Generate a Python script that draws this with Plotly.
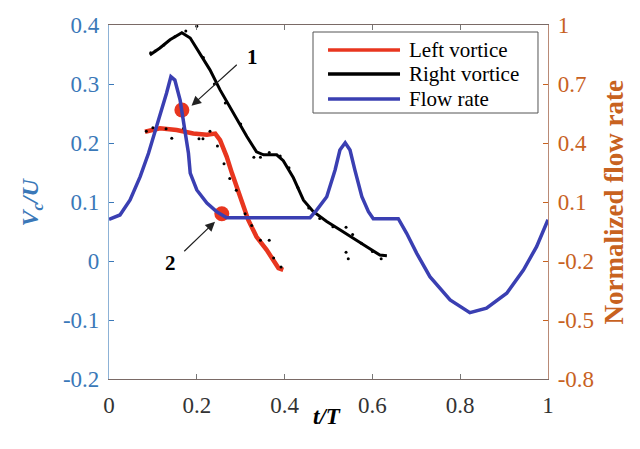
import plotly.graph_objects as go

# ---- data ----
flow_t = [0.0, 0.025, 0.048, 0.071, 0.090, 0.109, 0.131, 0.141, 0.150, 0.162, 0.173, 0.181,
          0.185, 0.200, 0.223, 0.245, 0.268, 0.458, 0.473, 0.496, 0.515, 0.526, 0.538, 0.549,
          0.560, 0.576, 0.591, 0.602, 0.659, 0.678, 0.701, 0.731, 0.777, 0.822, 0.860, 0.906,
          0.944, 0.974, 1.0]
flow_r = [0.012, 0.034, 0.110, 0.229, 0.348, 0.483, 0.653, 0.737, 0.720, 0.618, 0.466, 0.348,
          0.247, 0.161, 0.095, 0.051, 0.020, 0.020, 0.059, 0.127, 0.263, 0.364, 0.401, 0.364,
          0.263, 0.127, 0.051, 0.015, 0.015, -0.059, -0.161, -0.280, -0.398, -0.463, -0.440, -0.364,
          -0.246, -0.127, 0.010]

right_t = [0.093, 0.116, 0.139, 0.166, 0.185, 0.207, 0.230, 0.253, 0.283, 0.314, 0.336, 0.352,
           0.382, 0.397, 0.420, 0.443, 0.465, 0.496, 0.526, 0.557, 0.587, 0.617, 0.633]
right_v = [0.349, 0.361, 0.375, 0.387, 0.378, 0.352, 0.324, 0.290, 0.250, 0.211, 0.185, 0.180,
           0.180, 0.170, 0.141, 0.103, 0.084, 0.067, 0.053, 0.039, 0.024, 0.010, 0.009]

left_t = [0.082, 0.116, 0.154, 0.192, 0.223, 0.242, 0.253, 0.268, 0.280, 0.298, 0.317, 0.336,
          0.359, 0.386, 0.397]
left_v = [0.219, 0.225, 0.222, 0.216, 0.214, 0.216, 0.205, 0.177, 0.149, 0.109, 0.070, 0.041,
          0.019, -0.012, -0.015]

dots_t = [0.095, 0.105, 0.125, 0.150, 0.175, 0.200, 0.215, 0.240, 0.265, 0.300, 0.330, 0.345,
          0.365, 0.390, 0.410, 0.430, 0.455, 0.480, 0.510, 0.540, 0.545, 0.540, 0.555, 0.575, 0.600, 0.620,
          0.085, 0.100, 0.130, 0.143, 0.170, 0.205, 0.214, 0.230, 0.247, 0.262, 0.275, 0.290, 0.310,
          0.325, 0.345, 0.365, 0.375, 0.392]
dots_v = [0.353, 0.356, 0.366, 0.380, 0.390, 0.398, 0.345, 0.300, 0.268, 0.232, 0.176, 0.176,
          0.184, 0.178, 0.158, 0.125, 0.090, 0.072, 0.058, 0.015, 0.004, 0.057, 0.045, 0.030, 0.016, 0.004,
          0.220, 0.226, 0.224, 0.208, 0.225, 0.207, 0.207, 0.220, 0.195, 0.165, 0.140, 0.120, 0.080,
          0.060, 0.035, 0.035, 0.005, -0.010]

mark_t = [0.166, 0.257]
mark_v = [0.256, 0.080]

left_ticks = [-0.2, -0.1, 0, 0.1, 0.2, 0.3, 0.4]
left_labels = ["-0.2", "-0.1", "0", "0.1", "0.2", "0.3", "0.4"]
right_ticks = [-0.8, -0.5, -0.2, 0.1, 0.4, 0.7, 1]
right_labels = ["-0.8", "-0.5", "-0.2", "0.1", "0.4", "0.7", "1"]
x_ticks = [0, 0.2, 0.4, 0.6, 0.8, 1]
x_labels = ["0", "0.2", "0.4", "0.6", "0.8", "1"]

series_names = ["Left vortice", "Right vortice", "Flow rate"]
series_colors = ["#e8361f", "black", "#3a3fb2"]

BLUE_AX = "#3a78b8"
ORANGE = "#c8621f"
FONT = "Liberation Serif"

fig = go.Figure()
fig.add_trace(go.Scatter(x=left_t, y=left_v, mode="lines", name=series_names[0],
                         line=dict(color=series_colors[0], width=4.5), showlegend=False))
fig.add_trace(go.Scatter(x=right_t, y=right_v, mode="lines", name=series_names[1],
                         line=dict(color=series_colors[1], width=3), showlegend=False))
fig.add_trace(go.Scatter(x=flow_t, y=flow_r, mode="lines", name=series_names[2], yaxis="y2",
                         line=dict(color=series_colors[2], width=3.5), showlegend=False))
fig.add_trace(go.Scatter(x=dots_t, y=dots_v, mode="markers", showlegend=False,
                         marker=dict(color="black", size=3)))
fig.add_trace(go.Scatter(x=mark_t, y=mark_v, mode="markers", showlegend=False,
                         marker=dict(color="#e8361f", size=15)))

fig.update_layout(
    width=640, height=449,
    margin=dict(l=109, r=92, t=25, b=70),
    paper_bgcolor="white", plot_bgcolor="white",
    font=dict(family=FONT, size=20, color="black"),
    xaxis=dict(range=[0, 1], tickvals=x_ticks, ticktext=x_labels, ticks="inside", ticklen=5,
               tickcolor="#777", showline=True, linecolor="#7a6a66", linewidth=1.2,
               mirror="ticks", showgrid=False, zeroline=False, ticklabelstandoff=5,
               tickfont=dict(family=FONT, size=23, color="#333")),
    yaxis=dict(range=[-0.2, 0.4], tickvals=left_ticks, ticktext=left_labels, ticks="inside",
               ticklen=5, tickcolor=BLUE_AX, showline=True, linecolor="#8db2d6", linewidth=1.2,
               showgrid=False, zeroline=False, ticklabelstandoff=4,
               tickfont=dict(family=FONT, size=23, color=BLUE_AX)),
    yaxis2=dict(range=[-0.8, 1], tickvals=right_ticks, ticktext=right_labels, ticks="inside",
                ticklen=5, tickcolor=ORANGE, overlaying="y", side="right", showline=True,
                linecolor="#b98a76", linewidth=1.2, showgrid=False, zeroline=False,
                ticklabelstandoff=4,
                tickfont=dict(family=FONT, size=23, color=ORANGE)),
    showlegend=False,
)

# manual legend (box, line samples, labels) in paper coordinates
shapes = [dict(type="rect", xref="paper", yref="paper", x0=0.4647, x1=0.9772, y0=0.7514, y1=0.9802,
               line=dict(color="#555", width=1), fillcolor="white", layer="above")]
leg_y = [0.9294, 0.8616, 0.7910]
ann = []
for name, col, yy in zip(series_names, series_colors, leg_y):
    shapes.append(dict(type="line", xref="paper", yref="paper", x0=0.4989, x1=0.6629, y0=yy, y1=yy,
                       line=dict(color=col, width=3.5), layer="above"))
    ann.append(dict(x=0.6788, y=yy, xref="paper", yref="paper", text=name, xanchor="left",
                    yanchor="middle", showarrow=False,
                    font=dict(family=FONT, size=21, color="black")))

ann += [
    dict(x=0.496, y=-0.146, xref="paper", yref="paper", text="<b><i>t/T</i></b>",
         showarrow=False, font=dict(family=FONT, size=23, color="black")),
    dict(x=-0.215, y=0.5, xref="paper", yref="paper", text="<b><i>V<sub>c</sub>/U</i></b>",
         textangle=-90, showarrow=False, font=dict(family=FONT, size=24, color=BLUE_AX)),
    dict(x=1.19, y=0.5, xref="paper", yref="paper", text="<b>Normalized flow rate</b>",
         textangle=-90, showarrow=False, font=dict(family=FONT, size=27, color=ORANGE)),
    dict(x=0.188, y=0.263, ax=0.2945, ay=0.335, xref="x", yref="y", axref="x", ayref="y",
         text="", showarrow=True, arrowhead=2, arrowsize=1.6, arrowwidth=1.2, arrowcolor="#222"),
    dict(x=0.328, y=0.346, xref="x", yref="y", text="<b>1</b>", showarrow=False,
         font=dict(family=FONT, size=21, color="black")),
    dict(x=0.2415, y=0.0666, ax=0.168, ay=0.0141, xref="x", yref="y", axref="x", ayref="y",
         text="", showarrow=True, arrowhead=2, arrowsize=1.6, arrowwidth=1.2, arrowcolor="#222"),
    dict(x=0.139, y=-0.004, xref="x", yref="y", text="<b>2</b>", showarrow=False,
         font=dict(family=FONT, size=21, color="black")),
]
fig.update_layout(annotations=ann, shapes=shapes)

fig.write_html("out.html")
